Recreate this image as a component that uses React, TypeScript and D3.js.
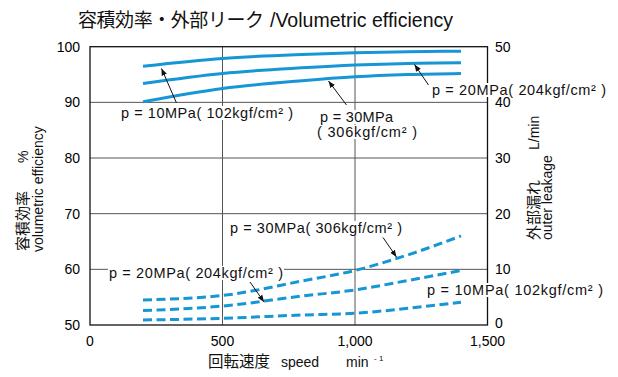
import React, { useEffect, useRef } from "react";
import * as d3 from "d3";

const speeds = [200, 500, 800, 1000, 1200, 1400];
const eff10 = [96.5, 97.9, 98.6, 98.9, 99.1, 99.2];
const eff20 = [93.4, 95.2, 96.2, 96.7, 97.0, 97.1];
const eff30 = [90.1, 92.5, 93.9, 94.6, 95.0, 95.2];
const leak10 = [0.9, 1.2, 1.8, 2.1, 3.0, 4.1];
const leak20 = [2.6, 3.4, 5.2, 6.3, 8.0, 9.8];
const leak30 = [4.5, 5.3, 7.9, 9.8, 12.6, 16.0];

const xTicks = [0, 500, 1000, 1500];
const xTickLabels = ["0", "500", "1,000", "1,500"];
const leftTicks = [50, 60, 70, 80, 90, 100];
const rightTicks = [0, 10, 20, 30, 40, 50];

const titleJa = "容積効率・外部リーク";
const titleEn = "/Volumetric efficiency";
const BLUE = "#1796d6";
const LATIN = "'Liberation Sans', Arial, Helvetica, sans-serif";
const CJK = "'Noto Sans CJK JP', 'Liberation Sans', sans-serif";

export default function App() {
  const ref = useRef<SVGSVGElement | null>(null);

  useEffect(() => {
    const svg = d3.select(ref.current);
    svg.selectAll("*").remove();

    const x = d3.scaleLinear().domain([0, 1500]).range([90, 487.5]);
    const yL = d3.scaleLinear().domain([50, 100]).range([325, 46.7]);
    const yR = d3.scaleLinear().domain([0, 50]).range([325, 46.7]);

    const defs = svg.append("defs");
    defs
      .append("marker")
      .attr("id", "ah")
      .attr("viewBox", "0 0 10 10")
      .attr("refX", 10)
      .attr("refY", 5)
      .attr("markerWidth", 7)
      .attr("markerHeight", 7)
      .attr("markerUnits", "userSpaceOnUse")
      .attr("orient", "auto")
      .append("path")
      .attr("d", "M0,1 L10,5 L0,9 Z")
      .attr("fill", "#111");

    // grid
    const g = svg.append("g");
    xTicks.slice(1, -1).forEach((t) => {
      g.append("line")
        .attr("x1", x(t)).attr("x2", x(t))
        .attr("y1", yL(50)).attr("y2", yL(100))
        .attr("stroke", "#555").attr("stroke-width", 1);
    });
    leftTicks.slice(1, -1).forEach((t) => {
      g.append("line")
        .attr("x1", x(0)).attr("x2", x(1500))
        .attr("y1", yL(t)).attr("y2", yL(t))
        .attr("stroke", "#555").attr("stroke-width", 1);
    });
    g.append("rect")
      .attr("x", x(0)).attr("y", yL(100))
      .attr("width", x(1500) - x(0)).attr("height", yL(50) - yL(100))
      .attr("fill", "none").attr("stroke", "#111").attr("stroke-width", 1.3);

    // tick labels
    leftTicks.forEach((t) => {
      svg.append("text")
        .attr("x", 80).attr("y", yL(t) + 5)
        .attr("text-anchor", "end")
        .attr("font-family", LATIN).attr("font-size", 14)
        .text(String(t));
    });
    rightTicks.forEach((t) => {
      svg.append("text")
        .attr("x", 495).attr("y", yR(t) + 5 - (t === 0 ? 2 : 0))
        .attr("text-anchor", "start")
        .attr("font-family", LATIN).attr("font-size", 14)
        .text(String(t));
    });
    xTicks.forEach((t, i) => {
      svg.append("text")
        .attr("x", x(t)).attr("y", 346)
        .attr("text-anchor", "middle")
        .attr("font-family", LATIN).attr("font-size", 14)
        .text(xTickLabels[i]);
    });

    // curves
    const lineL = d3.line<number>()
      .x((_, i) => x(speeds[i]))
      .y((d) => yL(d))
      .curve(d3.curveMonotoneX);
    const lineR = d3.line<number>()
      .x((_, i) => x(speeds[i]))
      .y((d) => yR(d))
      .curve(d3.curveMonotoneX);

    [eff10, eff20, eff30].forEach((s) => {
      svg.append("path")
        .attr("d", lineL(s) as string)
        .attr("fill", "none").attr("stroke", BLUE).attr("stroke-width", 3);
    });
    [leak10, leak20, leak30].forEach((s) => {
      svg.append("path")
        .attr("d", lineR(s) as string)
        .attr("fill", "none").attr("stroke", BLUE).attr("stroke-width", 3)
        .attr("stroke-dasharray", "9,4.5");
    });

    // annotations
    const label = (tx: number, ty: number, txt: string, len: number) => {
      const grp = svg.append("g");
      const rect = grp.append("rect").attr("fill", "#fff");
      const t = grp.append("text")
        .attr("x", tx).attr("y", ty)
        .attr("font-family", LATIN).attr("font-size", 14.5)
        .attr("textLength", len).attr("lengthAdjust", "spacing")
        .attr("fill", "#111")
        .text(txt);
      const b = (t.node() as SVGTextElement).getBBox();
      rect.attr("x", b.x - 1).attr("y", b.y + 1)
        .attr("width", b.width + 2).attr("height", b.height - 2);
    };
    const arrow = (x1: number, y1: number, x2: number, y2: number) => {
      svg.append("line")
        .attr("x1", x1).attr("y1", y1).attr("x2", x2).attr("y2", y2)
        .attr("stroke", "#111").attr("stroke-width", 1)
        .attr("marker-end", "url(#ah)");
    };

    label(121, 118, "p = 10MPa( 102kgf/cm² )", 172);
    arrow(176.5, 103, 161.5, 68.5);
    label(320, 122, "p = 30MPa", 73);
    label(317, 137, "( 306kgf/cm² )", 100);
    arrow(346.5, 105, 328.5, 81);
    label(432, 95, "p = 20MPa( 204kgf/cm² )", 174);
    arrow(428.5, 85, 414.5, 64.5);

    label(230, 233, "p = 30MPa( 306kgf/cm² )", 172);
    arrow(383, 237.5, 396.5, 257);
    label(109, 278, "p = 20MPa( 204kgf/cm² )", 174);
    arrow(250, 282, 264, 302);
    label(427, 295, "p = 10MPa( 102kgf/cm² )", 176);

    // title
    const tt = svg.append("text").attr("y", 27).attr("fill", "#111");
    tt.append("tspan").attr("x", 78).attr("font-family", CJK).attr("font-size", 19)
      .attr("textLength", 186).attr("lengthAdjust", "spacing").text(titleJa);
    tt.append("tspan").attr("x", 270).attr("font-family", LATIN).attr("font-size", 19.5)
      .attr("textLength", 183).attr("lengthAdjust", "spacing").text(titleEn);

    // axis titles (rotated); baseline positions are to the right of glyph centres
    const rot = (bx: number, by: number, parts: { t: string; off: number; cjk?: boolean }[]) => {
      const t = svg.append("text")
        .attr("transform", `translate(${bx},${by}) rotate(-90)`)
        .attr("fill", "#111");
      parts.forEach((p) => {
        t.append("tspan")
          .attr("x", p.off).attr("y", 0)
          .attr("font-family", p.cjk ? CJK : LATIN)
          .attr("font-size", p.cjk ? 15 : 14)
          .text(p.t);
      });
    };
    rot(28, 251, [
      { t: "容積効率", off: 0, cjk: true },
      { t: "%", off: 88 },
    ]);
    rot(43, 252, [{ t: "volumetric efficiency", off: 0 }]);
    rot(539, 240, [
      { t: "外部漏れ", off: 0, cjk: true },
      { t: "L/min", off: 90 },
    ]);
    rot(552, 240, [{ t: "outer leakage", off: 0 }]);

    const bt = svg.append("text").attr("y", 367).attr("fill", "#111");
    bt.append("tspan").attr("x", 208).attr("font-family", CJK).attr("font-size", 15.5).text("回転速度");
    bt.append("tspan").attr("x", 281).attr("font-family", LATIN).attr("font-size", 14).text("speed");
    bt.append("tspan").attr("x", 346).attr("font-family", LATIN).attr("font-size", 14).text("min");
    bt.append("tspan").attr("x", 374).attr("dy", -6).attr("font-family", LATIN).attr("font-size", 8).text("- 1");
  }, []);

  return (
    <svg
      ref={ref}
      width={618}
      height={377}
      style={{ position: "absolute", left: 0, top: 0, background: "#fff" }}
    />
  );
}
